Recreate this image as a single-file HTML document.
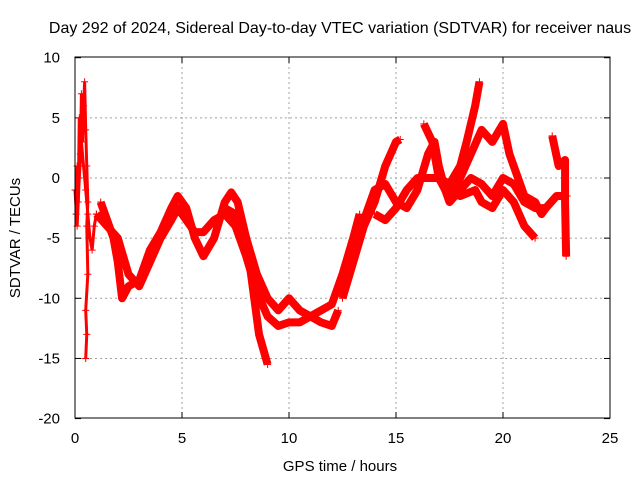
<!DOCTYPE html>
<html><head><meta charset="utf-8"><style>
html,body{margin:0;padding:0;background:#fff;}
svg{display:block;font-family:"Liberation Sans",sans-serif;}
</style></head><body>
<svg id="chart" width="640" height="480">
<text x="340" y="33" font-size="16" text-anchor="middle">Day 292 of 2024, Sidereal Day-to-day VTEC variation (SDTVAR) for receiver naus</text>
<text x="340" y="471" font-size="15" text-anchor="middle">GPS time / hours</text>
<text transform="translate(20,238) rotate(-90)" font-size="15" text-anchor="middle">SDTVAR / TECUs</text>
<g id="grid"></g>
<g id="ticks"></g>
<g id="series"></g>
<rect x="75" y="57" width="535" height="361" fill="none" stroke="#000" stroke-width="1"/>
</svg>
<script>
const xTicks=[0,5,10,15,20,25];
const yTicks=[10,5,0,-5,-10,-15,-20];
const bandA=[[1.0,-3],[1.5,-4],[2,-5],[2.5,-8],[3,-9],[3.5,-7],[4,-5],[4.5,-3.5],[4.8,-2.5],[5.2,-3.5],[5.6,-4.5],[6,-4.5],[6.5,-3.5],[7,-3],[7.5,-4],[8,-6.5],[8.5,-9.5],[9,-11.5],[9.5,-12.3],[10,-12],[10.5,-12],[11,-11.5],[11.5,-12],[12,-12.3],[12.3,-11]];
const bandB=[[1.2,-2],[1.5,-3.5],[1.8,-5],[2.0,-7],[2.2,-10],[2.5,-9],[3,-8.5],[3.5,-6],[4,-4.5],[4.5,-2.5],[4.8,-1.5],[5.2,-2.5],[5.6,-5],[6,-6.5],[6.5,-5],[7,-2],[7.3,-1.2],[7.6,-2],[8,-5],[8.3,-9],[8.6,-13],[9,-15.5]];
const bandC=[[7,-2.5],[7.5,-3],[8,-5],[8.5,-8],[9,-10],[9.5,-11],[10,-10],[10.5,-11],[11,-11.5],[11.5,-11],[12,-10.5],[12.5,-8],[13,-5],[13.3,-3]];
const bandD=[[12.5,-10],[13,-7],[13.5,-4],[14,-2],[14.5,1],[15,3],[15.2,3.2]];
const bandE=[[13.5,-3.5],[14,-1],[14.5,-0.5],[15,-2],[15.5,-2.5],[16,-1],[16.5,2],[16.8,3],[17,1],[17.3,-1],[17.5,-2],[18,-1],[18.5,0],[19,-0.5],[19.5,-1.5],[20,0],[20.5,-0.5],[21,-2],[21.5,-2.5],[22,-2.5],[22.5,-1.5],[23,-1.5]];
const bandF=[[14,-3],[14.5,-3.5],[15,-2.5],[15.5,-1],[16,0],[16.5,0],[17,0],[17.5,-0.5],[18,1],[18.3,3],[18.7,6],[18.9,8]];
const bandG=[[17.7,-1],[18,0],[18.5,2],[19,4],[19.5,3],[20,4.5],[20.3,2],[20.7,0],[21,-1.5],[21.5,-2],[21.8,-3],[22,-2.5]];
const bandH=[[16.3,4.5],[16.7,3],[17,0],[17.3,-1],[18,-1.5],[18.7,-1],[19,-2],[19.5,-2.5],[20,-1],[20.5,-2],[21,-4],[21.5,-5]];
const bandI=[[22.3,3.5],[22.6,1],[22.9,1.5],[22.9,-2],[22.95,-6.5]];
const spikeA=[[0.05,-3],[0.1,1],[0.15,-2],[0.2,5],[0.25,2],[0.3,7],[0.35,3],[0.4,6],[0.45,8],[0.5,4],[0.55,1],[0.6,-2],[0.55,-4],[0.6,-8],[0.5,-11],[0.55,-13],[0.5,-15]];
const spikeB=[[0.0,-1],[0.1,-4],[0.2,0],[0.3,3],[0.4,1],[0.5,-1],[0.6,-3],[0.7,-5],[0.8,-6],[0.9,-4],[1.0,-3]];
const bands=[bandA,bandB,bandC,bandD,bandE,bandF,bandG,bandH,bandI];
const spikes=[spikeA,spikeB];
const NS='http://www.w3.org/2000/svg';
const X=t=>75+t*21.4, Y=v=>178-v*12.03;
function mk(tag,attrs,parent){const e=document.createElementNS(NS,tag);for(const k in attrs)e.setAttribute(k,attrs[k]);parent.appendChild(e);return e;}
const grid=document.getElementById('grid'),ticks=document.getElementById('ticks'),series=document.getElementById('series');
xTicks.forEach(t=>{
 if(t>0&&t<25){const l=mk('line',{x1:X(t),x2:X(t),y1:57,y2:418,stroke:'#a0a0a0','stroke-dasharray':'2,3'},grid);
 
 }
 const tx=mk('text',{x:X(t),y:443,'font-size':15,'text-anchor':'middle'},ticks);tx.textContent=t;
 
 
 mk('line',{x1:X(t),x2:X(t),y1:418,y2:412,stroke:'#000'},ticks);
 mk('line',{x1:X(t),x2:X(t),y1:57,y2:63,stroke:'#000'},ticks);
});
yTicks.forEach(v=>{
 if(v<10&&v>-20){const l=mk('line',{x1:75,x2:610,y1:Y(v),y2:Y(v),stroke:'#a0a0a0','stroke-dasharray':'2,3'},grid);
 
 }
 const tx=mk('text',{x:60,y:Y(v)+5,'font-size':15,'text-anchor':'end'},ticks);tx.textContent=v;
 
 
 mk('line',{x1:75,x2:81,y1:Y(v),y2:Y(v),stroke:'#000'},ticks);
 mk('line',{x1:610,x2:604,y1:Y(v),y2:Y(v),stroke:'#000'},ticks);
});
function plus(p,g){const x=X(p[0]),y=Y(p[1]);mk('path',{d:`M${x-3.5},${y}H${x+3.5}M${x},${y-3.5}V${y+3.5}`,stroke:'#f00','stroke-width':1},g);}
bands.forEach((b,i)=>{
 const g=mk('g',{},series);
 
 
 mk('path',{d:b.map((p,j)=>(j?'L':'M')+X(p[0])+','+Y(p[1])).join(''),fill:'none',stroke:'#f00','stroke-width':8,'stroke-linejoin':'round'},g);
 b.forEach(p=>plus(p,g));
});
spikes.forEach((b,i)=>{
 const g=mk('g',{},series);
 
 
 mk('path',{d:b.map((p,j)=>(j?'L':'M')+X(p[0])+','+Y(p[1])).join(''),fill:'none',stroke:'#f00','stroke-width':3},g);
 b.forEach(p=>plus(p,g));
});
</script>
</body></html>
